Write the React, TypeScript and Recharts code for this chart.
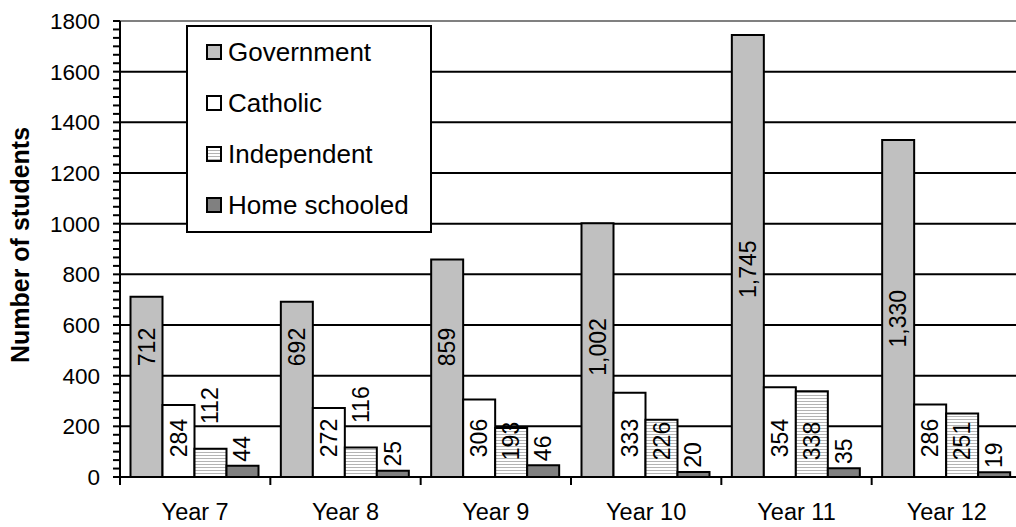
import React from 'react';
import { BarChart, Bar, XAxis, YAxis, CartesianGrid, Legend, LabelList } from 'recharts';

const categories = ['Year 7', 'Year 8', 'Year 9', 'Year 10', 'Year 11', 'Year 12'];
const government = [712, 692, 859, 1002, 1745, 1330];
const catholic = [284, 272, 306, 333, 354, 286];
const independent = [112, 116, 193, 226, 338, 251];
const homeSchooled = [44, 25, 46, 20, 35, 19];
const seriesNames = ['Government', 'Catholic', 'Independent', 'Home schooled'];
const yTickLabels = [0, 200, 400, 600, 800, 1000, 1200, 1400, 1600, 1800];
const yMax = 1800;
const minorPerMajor = 6;
const axisTitle = 'Number of students';

const data = categories.map((c, i) => ({
  category: c,
  government: government[i],
  catholic: catholic[i],
  independent: independent[i],
  homeSchooled: homeSchooled[i],
}));

const minorTicks = Array.from({ length: (yTickLabels.length - 1) * minorPerMajor + 1 }, (_, i) => (i * 200) / minorPerMajor);
const gridValues = yTickLabels.filter((v) => v > 0 && v < yMax);

const FONT = '"Liberation Sans", Arial, Helvetica, sans-serif';
const COLORS = { government: '#C0C0C0', catholic: '#FFFFFF', home: '#808080' };

const fmt = (v: number) => v.toLocaleString('en-US');

const YTick = (props: any) => {
  const { x, y, payload } = props;
  const v = Number(payload.value);
  const isMajor = yTickLabels.some((t) => Math.abs(t - v) < 1e-6);
  if (!isMajor) return null;
  return (
    <text x={x} y={y} dy="0.355em" textAnchor="end" fontFamily={FONT} fontSize={22.5} fill="#000">
      {String(Math.round(v))}
    </text>
  );
};

const XTick = (props: any) => {
  const { x, y, payload, index } = props;
  const half = payload && typeof payload.offset === 'number' && payload.offset > 0 ? payload.offset : 75;
  const last = index === categories.length - 1;
  return (
    <g>
      <line x1={x - half} x2={x - half} y1={y} y2={y + 8} stroke="#000" strokeWidth={2} />
      {last && <line x1={x + half} x2={x + half} y1={y} y2={y + 8} stroke="#000" strokeWidth={2} />}
      <text x={x} y={y + 43} textAnchor="middle" fontFamily={FONT} fontSize={23.5} fill="#000">
        {payload.value}
      </text>
    </g>
  );
};

const rotLabel = (cx: number, cy: number, text: string) => (
  <text
    x={cx}
    y={cy}
    transform={`rotate(-90, ${cx}, ${cy})`}
    textAnchor="middle"
    dominantBaseline="central"
    fontFamily={FONT}
    fontSize={23}
    fill="#000"
  >
    {text}
  </text>
);

const makeLabel = (kind: string) => (props: any) => {
  const { x, y, width, height, value } = props;
  const cx = Number(x) + Number(width) / 2;
  const top = Number(y);
  const h = Number(height);
  const bottom = top + h;
  let cy = bottom - 40;
  if (kind === 'government') cy = bottom - Math.max(130, 0.47 * h);
  else if (kind === 'catholic') cy = bottom - 39;
  else if (kind === 'independent') cy = h < 45 ? top - 43 : bottom - 36;
  else if (kind === 'home') cy = top - 17;
  return rotLabel(cx, cy, fmt(Number(value)));
};

const AxisTitle = (props: any) => {
  const vb = props.viewBox || { x: 0, y: 21, width: 120, height: 456 };
  const cx = vb.x + 20;
  const cy = vb.y + vb.height / 2 - 4;
  return (
    <text
      x={cx}
      y={cy}
      transform={`rotate(-90, ${cx}, ${cy})`}
      textAnchor="middle"
      dominantBaseline="central"
      fontFamily={FONT}
      fontWeight="bold"
      fontSize={25}
      fill="#000"
    >
      {axisTitle}
    </text>
  );
};

const hatchCss = 'repeating-linear-gradient(to bottom, #ffffff 0px, #ffffff 2px, #b4b4b4 2px, #b4b4b4 3px)';
const legendSwatches = [COLORS.government, COLORS.catholic, hatchCss, COLORS.home];

const LegendBox = () => (
  <div
    style={{
      position: 'relative',
      width: 246,
      height: 208,
      boxSizing: 'border-box',
      border: '2px solid #000',
      background: '#fff',
      fontFamily: FONT,
      fontSize: 26,
      color: '#000',
    }}
  >
    {seriesNames.map((name, i) => (
      <div
        key={name}
        style={{
          position: 'absolute',
          left: 0,
          top: 27 + i * 51 - 25.5 - 2,
          height: 51,
          display: 'flex',
          alignItems: 'center',
          whiteSpace: 'nowrap',
        }}
      >
        <span
          style={{
            display: 'inline-block',
            marginLeft: 18,
            width: 16,
            height: 16,
            boxSizing: 'border-box',
            border: '2px solid #000',
            background: legendSwatches[i],
          }}
        />
        <span style={{ marginLeft: 6, lineHeight: '51px' }}>{name}</span>
      </div>
    ))}
  </div>
);

export default function App() {
  return (
    <div style={{ position: 'fixed', left: 0, top: 0, width: 1016, height: 527, overflow: 'hidden', background: '#fff' }}>
      <BarChart
        width={1040}
        height={527}
        data={data}
        margin={{ top: 21, right: 18, bottom: 0, left: 0 }}
        barCategoryGap={10.5}
        barGap={0}
      >
        <defs>
          <pattern id="hatch" width="6" height="3" patternUnits="userSpaceOnUse">
            <rect x="0" y="0" width="6" height="3" fill="#ffffff" />
            <line x1="0" y1="2.5" x2="6" y2="2.5" stroke="#b4b4b4" strokeWidth="1" />
          </pattern>
        </defs>
        <CartesianGrid vertical={false} horizontalValues={gridValues} stroke="#000" strokeWidth={2} />
        <CartesianGrid vertical={false} horizontalValues={[yMax]} stroke="#808080" strokeWidth={2} />
        <XAxis
          dataKey="category"
          height={50}
          tickLine={false}
          tickSize={0}
          tickMargin={0}
          interval={0}
          axisLine={{ stroke: '#000', strokeWidth: 2 }}
          tick={<XTick />}
        />
        <YAxis
          width={120}
          domain={[0, yMax]}
          ticks={minorTicks}
          interval={0}
          tickSize={7}
          tickMargin={13}
          tickLine={{ stroke: '#000', strokeWidth: 2 }}
          axisLine={{ stroke: '#000', strokeWidth: 2 }}
          tick={<YTick />}
          label={<AxisTitle />}
        />
        <Legend
          layout="vertical"
          align="center"
          verticalAlign="middle"
          wrapperStyle={{ left: 186, top: 25, width: 246, height: 208 }}
          content={() => <LegendBox />}
        />
        <Bar dataKey="government" name={seriesNames[0]} fill={COLORS.government} stroke="#000" strokeWidth={2} isAnimationActive={false}>
          <LabelList dataKey="government" content={makeLabel('government')} />
        </Bar>
        <Bar dataKey="catholic" name={seriesNames[1]} fill={COLORS.catholic} stroke="#000" strokeWidth={2} isAnimationActive={false}>
          <LabelList dataKey="catholic" content={makeLabel('catholic')} />
        </Bar>
        <Bar dataKey="independent" name={seriesNames[2]} fill="url(#hatch)" stroke="#000" strokeWidth={2} isAnimationActive={false}>
          <LabelList dataKey="independent" content={makeLabel('independent')} />
        </Bar>
        <Bar dataKey="homeSchooled" name={seriesNames[3]} fill={COLORS.home} stroke="#000" strokeWidth={2} isAnimationActive={false}>
          <LabelList dataKey="homeSchooled" content={makeLabel('home')} />
        </Bar>
      </BarChart>
    </div>
  );
}
